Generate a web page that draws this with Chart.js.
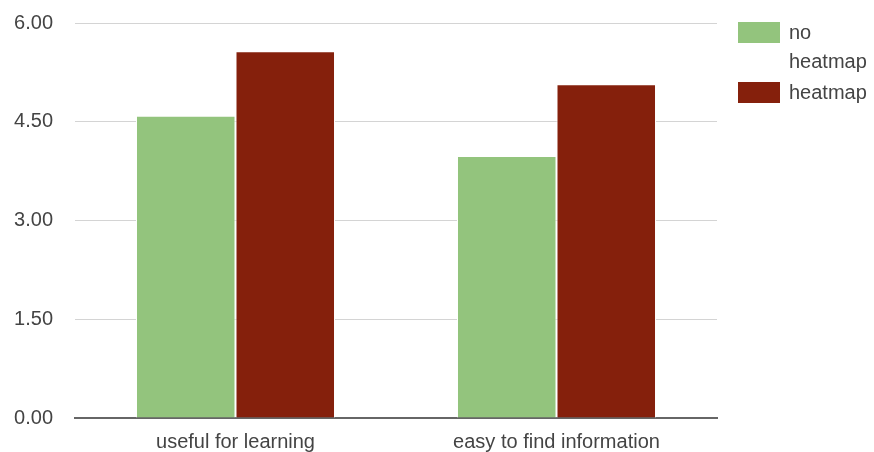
<!DOCTYPE html>
<html>
<head>
<meta charset="utf-8">
<script src="https://cdn.jsdelivr.net/npm/chart.js@4/dist/chart.umd.min.js"></script>
<style>
  html, body { margin: 0; padding: 0; background: #fff; }
  #wrap { width: 874px; height: 452px; }
</style>
</head>
<body>
<div id="wrap"><canvas id="grafico"></canvas></div>
<script>
const categorias = ['useful for learning', 'easy to find information'];
const sinHeatmap = [4.59, 3.98];
const conHeatmap = [5.57, 5.07];
const etiquetasY = [0, 1.5, 3, 4.5, 6];
const nombresSeries = [['no', 'heatmap'], ['heatmap']];

const verde = '#93c47d';
const rojo = '#85200c';
const gris = '#444444';
const fuente = '"Liberation Sans", Arial, sans-serif';

// leyenda dibujada a mano a la derecha, con el texto partido en lineas
const leyendaDerecha = {
  id: 'leyendaDerecha',
  afterDraw(chart) {
    const ctx = chart.ctx;
    const area = chart.chartArea;
    const x = area.right + 21;
    let y = 22;
    ctx.save();
    ctx.font = '20px ' + fuente;
    ctx.textBaseline = 'middle';
    ctx.textAlign = 'left';
    chart.data.datasets.forEach((ds, i) => {
      ctx.fillStyle = ds.backgroundColor;
      ctx.fillRect(x, y, 42, 21);
      ctx.fillStyle = gris;
      const lineas = nombresSeries[i];
      lineas.forEach((l, j) => {
        ctx.fillText(l, x + 51, y + 11 + j * 29);
      });
      y += 30 * lineas.length;
    });
    ctx.restore();
  }
};

new Chart(document.getElementById('grafico'), {
  type: 'bar',
  data: {
    labels: categorias,
    datasets: [
      {
        label: 'no heatmap',
        data: sinHeatmap,
        backgroundColor: verde,
        borderColor: '#ffffff',
        borderWidth: 1,
        categoryPercentage: 0.62,
        barPercentage: 1
      },
      {
        label: 'heatmap',
        data: conHeatmap,
        backgroundColor: rojo,
        borderColor: '#ffffff',
        borderWidth: 1,
        categoryPercentage: 0.62,
        barPercentage: 1
      }
    ]
  },
  options: {
    responsive: true,
    maintainAspectRatio: false,
    animation: false,
    layout: { padding: { top: 23, right: 157, bottom: 0, left: 0 } },
    plugins: {
      legend: { display: false },
      tooltip: { enabled: false }
    },
    scales: {
      x: {
        grid: { display: false },
        border: { display: true, color: '#666666', width: 2 },
        ticks: { color: gris, font: { family: fuente, size: 20 }, padding: 4 },
        afterFit: s => { s.height = 34; }
      },
      y: {
        min: 0,
        max: 6,
        afterBuildTicks: s => { s.ticks = etiquetasY.map(v => ({ value: v })); },
        grid: { color: '#d4d4d4', lineWidth: 1, drawTicks: false },
        border: { display: false },
        ticks: {
          color: gris,
          font: { family: fuente, size: 20 },
          padding: 22,
          callback: v => Number(v).toFixed(2)
        },
        // sin margen extra arriba por la etiqueta 6.00
        afterFit: s => { s.width = 75; s.paddingTop = 0; s.paddingBottom = 0; }
      }
    }
  },
  plugins: [leyendaDerecha]
});
</script>
</body>
</html>
